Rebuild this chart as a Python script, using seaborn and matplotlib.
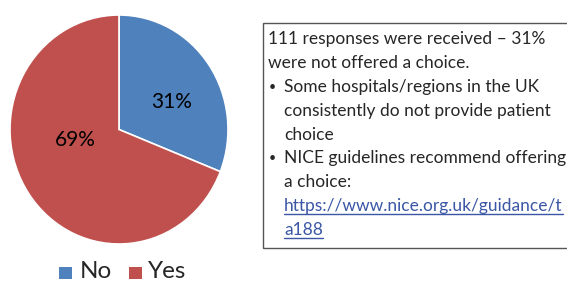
import matplotlib
matplotlib.use("Agg")
import matplotlib.pyplot as plt
import seaborn as sns
from matplotlib.patches import Rectangle
from matplotlib.lines import Line2D

sns.set_style("white")
plt.rcParams['font.family'] = ['Lato', 'DejaVu Sans']

categories = ["No", "Yes"]
values = [31, 69]
pct_labels = ["31%", "69%"]
colors = ["#4F81BD", "#C0504D"]

lines = [
    (0, "111 responses were received \u2013 31%"),
    (0, "were not offered a choice."),
    (1, "Some hospitals/regions in the UK"),
    (2, "consistently do not provide patient"),
    (2, "choice"),
    (1, "NICE guidelines recommend offering"),
    (2, "a choice:"),
]
link_lines = ["https://www.nice.org.uk/guidance/t", "a188"]

W, H = 567, 283
fig = plt.figure(figsize=(W / 100, H / 100), dpi=100)

def fx(px):
    return px / W

def fy(py):
    return 1 - py / H

# Pie axes
ax = fig.add_axes([fx(10), fy(244), 218 / W, 229 / H])
wedges, _ = ax.pie(values, colors=colors, startangle=90, counterclock=False,
                   wedgeprops=dict(edgecolor="white", linewidth=1.2))
ax.set_xlim(-1, 1)
ax.set_ylim(-1, 1)
ax.set_aspect("auto")
ax.axis("off")
label_pos = [(0.48, 0.24), (-0.40, -0.09)]
for (x, y), lab in zip(label_pos, pct_labels):
    ax.text(x, y, lab, ha="center", va="center", fontsize=15, color="black")

# Legend
leg_y = 272
items = [(59, 80, categories[0], colors[0]), (129, 148, categories[1], colors[1])]
for x0, xt, lab, c in items:
    fig.patches.append(Rectangle((fx(x0), fy(leg_y + 7)), 13 / W, 12 / H,
                                 transform=fig.transFigure, facecolor=c, edgecolor="none"))
    fig.text(fx(xt), fy(leg_y), lab, fontsize=17.5, va="center", ha="left")

# Text box
fig.patches.append(Rectangle((fx(263), fy(248)), (W + 10 - 263) / W, (248 - 23) / H,
                             transform=fig.transFigure, facecolor="white",
                             edgecolor="#555555", linewidth=1.0, clip_on=False))

y0 = 39
step = 23.9
fs = 12.5
for i, (lvl, txt) in enumerate(lines):
    y = y0 + i * step
    if lvl == 1:
        fig.text(fx(269), fy(y), "\u2022", fontsize=9, va="center", ha="left")
    x = 268 if lvl == 0 else 284
    fig.text(fx(x), fy(y), txt, fontsize=fs, va="center", ha="left")

link_color = "#3A56A5"
fig.canvas.draw()
renderer = fig.canvas.get_renderer()
for j, txt in enumerate(link_lines):
    y = y0 + (len(lines) + j) * step
    t = fig.text(fx(284), fy(y), txt, fontsize=fs, va="center", ha="left", color=link_color)
    bb = t.get_window_extent(renderer=renderer)
    yy = fy(y + 8)
    fig.lines.append(Line2D([bb.x0 / W, bb.x1 / W], [yy, yy], transform=fig.transFigure,
                            color=link_color, linewidth=1.0))

fig.savefig("out.png", dpi=100)
